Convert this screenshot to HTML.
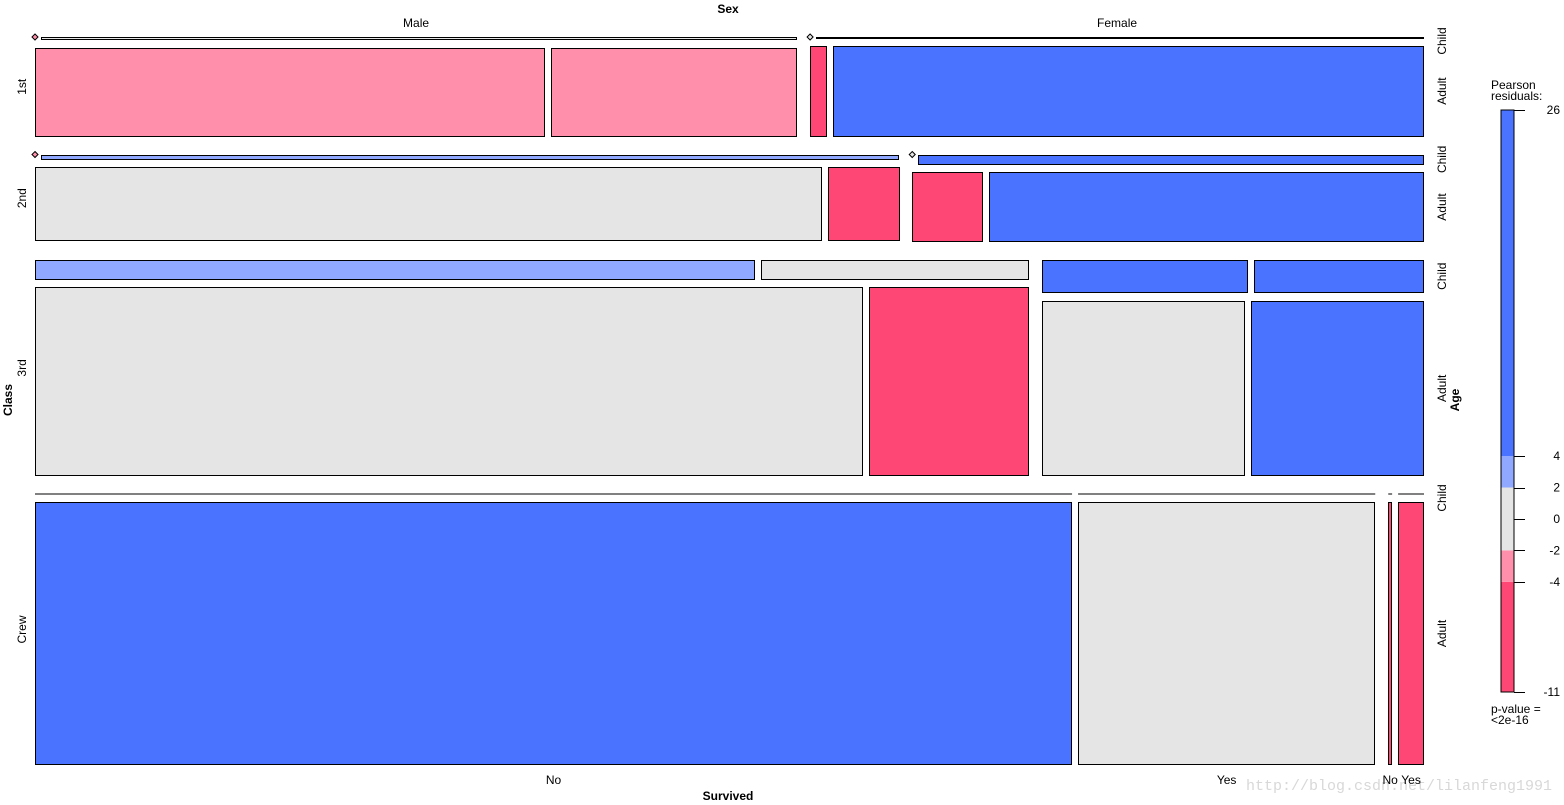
<!DOCTYPE html>
<html><head><meta charset="utf-8"><style>
html,body{margin:0;padding:0;background:#fff;}
svg{display:block;font-family:"Liberation Sans",Arial,sans-serif;}
</style></head><body>
<svg id="chart" width="1564" height="805" viewBox="0 0 1564 805" xmlns="http://www.w3.org/2000/svg">
<text x="728" y="13" font-size="12" font-weight="bold" text-anchor="middle">Sex</text>
<text x="728" y="800" font-size="12" font-weight="bold" text-anchor="middle">Survived</text>
<text transform="translate(12,400) rotate(-90)" font-size="12" font-weight="bold" text-anchor="middle">Class</text>
<text transform="translate(1459,400) rotate(-90)" font-size="12" font-weight="bold" text-anchor="middle">Age</text>
<text x="1491" y="89" font-size="12">Pearson</text>
<text x="1491" y="100" font-size="12">residuals:</text>
<text x="1491" y="713" font-size="12">p-value =</text>
<text x="1491" y="724" font-size="12">&lt;2e-16</text>
<text x="1552" y="790" font-size="15" fill="#d8d8d8" text-anchor="end" font-family="Liberation Mono, monospace">http://blog.csdn.net/lilanfeng1991</text>
<g id="cells"></g>
<g id="labels"></g>
<g id="legend"></g>
</svg>
<script>
const classes = ["1st","2nd","3rd","Crew"];
const sexes = ["Male","Female"];
const ages = ["Child","Adult"];
const survived = ["No","Yes"];
// order: class, sex, age, survived
const counts = [
  0,5, 118,57, 0,1, 4,140,
  0,11, 154,14, 0,13, 13,80,
  35,13, 387,75, 17,14, 89,76,
  0,0, 670,192, 0,0, 3,20
];
const residuals = [
  -3,1, -3,-3, 0,5, -5,10,
  -3,3, 1,-5, 0,5, -5,8,
  3,0.5, 1,-6, 4.5,5, 1,6,
  0,0, 6,0.5, 0,0, -5,-5
];
const legendTicks = [26,4,2,0,-2,-4,-11];
const legendBins = [-11,-4,-2,2,4,26];

const NS="http://www.w3.org/2000/svg";
function mk(tag,attrs,parent){const e=document.createElementNS(NS,tag);for(const k in attrs)e.setAttribute(k,attrs[k]);parent.appendChild(e);return e;}
function color(r){if(r>4)return"#4a74ff";if(r>2)return"#90a8ff";if(r>=-2)return"#e5e5e5";if(r>=-4)return"#ff8faa";return"#ff4775";}
function idx(c,s,a,v){return((c*2+s)*2+a)*2+v;}
function sum(f){let t=0;for(let c=0;c<4;c++)for(let s=0;s<2;s++)for(let a=0;a<2;a++)for(let v=0;v<2;v++)if(f(c,s,a,v))t+=counts[idx(c,s,a,v)];return t;}

const X0=35,X1=1424,Y0=37,Y1=765,GR=18,GS=13,GA=8,GV=6;
const cellsG=document.getElementById('cells');
const labG=document.getElementById('labels');
const total=sum(()=>true);
const classTot=classes.map((_,c)=>sum(cc=>cc===c));
const availH=(Y1-Y0)-GR*(classes.length-1);
let y=Y0;
classes.forEach((cn,c)=>{
  const h=availH*classTot[c]/total;
  const sexTot=sexes.map((_,s)=>sum((cc,ss)=>cc===c&&ss===s));
  const availW=(X1-X0)-GS;
  let x=X0;
  const lbl=mk('text',{transform:`translate(26,${y+h/2}) rotate(-90)`,'font-size':12,'text-anchor':'middle'},labG);
  
  
  lbl.textContent=cn;
  sexes.forEach((sn,s)=>{
    const w=availW*sexTot[s]/classTot[c];
    if(c===0){
      const t=mk('text',{x:x+w/2,y:27,'font-size':12,'text-anchor':'middle'},labG);
      
      
      t.textContent=sn;
    }
    const ageAvail=h-GA;
    let ay=y;
    ages.forEach((an,a)=>{
      const aN=sum((cc,ss,aa)=>cc===c&&ss===s&&aa===a);
      const ah=ageAvail*aN/sexTot[s];
      if(s===1){
        const t=mk('text',{transform:`translate(1446,${ay+Math.max(ah,8)/2}) rotate(-90)`,'font-size':12,'text-anchor':'middle'},labG);
        
        
        t.textContent=an;
      }
      let refN=aN, ra=a;
      if(aN===0){ra=1;refN=sum((cc,ss,aa)=>cc===c&&ss===s&&aa===1);}
      let vx=x;
      survived.forEach((vn,v)=>{
        const n=counts[idx(c,s,a,v)];
        const vw=(w-GV)*counts[idx(c,s,ra,v)]/refN;
        const r=residuals[idx(c,s,a,v)];
        if(aN>0 && n===0){
          const e=mk('path',{d:`M${vx} ${ay-3}L${vx+3} ${ay}L${vx} ${ay+3}L${vx-3} ${ay}Z`,fill:color(r),stroke:'#000','stroke-width':1},cellsG);
          
          
        } else if(aN===0){
          const e=mk('line',{x1:vx,x2:vx+vw,y1:ay,y2:ay,stroke:'#000','stroke-width':1},cellsG);
          
          
        } else {
          const e=mk('rect',{x:Math.round(vx)+0.5,y:Math.round(ay)+0.5,width:Math.max(1,Math.round(vw)-1),height:Math.max(1,Math.round(ah)-1),fill:color(r),stroke:'#000','stroke-width':1},cellsG);
          
          
        }
        if(c===classes.length-1 && a===1){
          const t=mk('text',{x:vx+vw/2,y:784,'font-size':12,'text-anchor':'middle'},labG);
          
          
          t.textContent=vn;
        }
        vx+=vw+(n===0&&aN>0?GV:GV);
      });
      ay+=ah+GA;
    });
    x+=w+GS;
  });
  y+=h+GR;
});

// legend
const legG=document.getElementById('legend');
const LY0=110,LY1=692,LMAX=26,LMIN=-11;
function ly(v){return LY1-(v-LMIN)/(LMAX-LMIN)*(LY1-LY0);}
for(let i=0;i<legendBins.length-1;i++){
  const lo=legendBins[i],hi=legendBins[i+1];
  const e=mk('rect',{x:1501,y:ly(hi),width:13,height:ly(lo)-ly(hi),fill:color((lo+hi)/2)},legG);
  
  
}
const frame=mk('rect',{x:1501,y:LY0,width:13,height:LY1-LY0,fill:'none',stroke:'#000','stroke-width':1},legG);


legendTicks.forEach(v=>{
  const t=mk('line',{x1:1514,x2:1525,y1:Math.round(ly(v))+0.5,y2:Math.round(ly(v))+0.5,stroke:'#000'},legG);
  
  
  const l=mk('text',{x:1560,y:ly(v)+4,'font-size':12,'text-anchor':'end'},legG);
  
  
  l.textContent=String(v);
});
</script>
</body></html>
